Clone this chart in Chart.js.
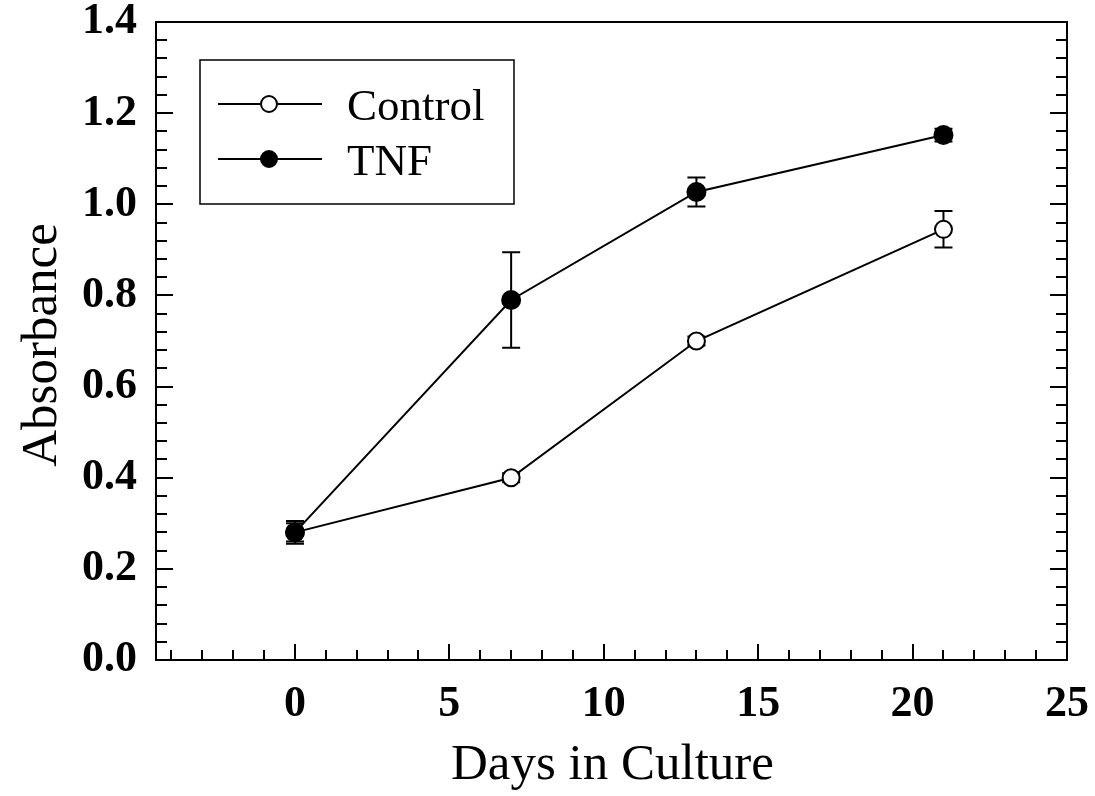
<!DOCTYPE html>
<html>
<head>
<meta charset="utf-8">
<script src="https://cdn.jsdelivr.net/npm/chart.js@4/dist/chart.umd.min.js"></script>
<style>
  html, body { margin: 0; padding: 0; background: #fff; }
  #wrap { width: 1095px; height: 796px; }
</style>
</head>
<body>
<div id="wrap"><canvas id="c" width="1095" height="796"></canvas></div>
<script>
// ---- data ----
const days = [0, 7, 13, 21];
const controlValues = [0.28, 0.40, 0.70, 0.945];
const controlErrors = [0.02, 0.01, 0.01, 0.04];
const tnfValues = [0.28, 0.79, 1.027, 1.152];
const tnfErrors = [0.025, 0.105, 0.032, 0.014];
const xTickValues = [0, 5, 10, 15, 20, 25];
const yTickValues = [0.0, 0.2, 0.4, 0.6, 0.8, 1.0, 1.2, 1.4];
const seriesNames = ['Control', 'TNF'];
const xTitle = 'Days in Culture';
const yTitle = 'Absorbance';

const SERIF = "'Liberation Serif', 'Times New Roman', serif";

const toPts = (xs, ys) => xs.map((x, i) => ({ x: x, y: ys[i] }));

const errorBarPlugin = {
  id: 'errorBars',
  beforeDatasetsDraw(chart) {
    const ctx = chart.ctx;
    const xs = chart.scales.x, ys = chart.scales.y;
    const sets = [[controlValues, controlErrors], [tnfValues, tnfErrors]];
    ctx.save();
    ctx.strokeStyle = '#000';
    ctx.lineWidth = 2;
    sets.forEach(([vals, errs]) => {
      days.forEach((d, i) => {
        const px = xs.getPixelForValue(d);
        const top = ys.getPixelForValue(vals[i] + errs[i]);
        const bot = ys.getPixelForValue(vals[i] - errs[i]);
        ctx.beginPath();
        ctx.moveTo(px, top); ctx.lineTo(px, bot);
        ctx.moveTo(px - 9, top); ctx.lineTo(px + 9, top);
        ctx.moveTo(px - 9, bot); ctx.lineTo(px + 9, bot);
        ctx.stroke();
      });
    });
    ctx.restore();
  }
};

const framePlugin = {
  id: 'frame',
  afterDraw(chart) {
    const ctx = chart.ctx;
    const a = chart.chartArea;
    const xs = chart.scales.x, ys = chart.scales.y;
    ctx.save();
    ctx.strokeStyle = '#000';
    ctx.lineWidth = 2;
    ctx.strokeRect(a.left, a.top, a.right - a.left, a.bottom - a.top);
    // y ticks (inward, left and right)
    ctx.beginPath();
    for (let i = 1; i < 35; i++) {
      const v = i * 0.04;
      const py = Math.round(ys.getPixelForValue(v));
      const major = i % 5 === 0;
      const len = major ? 17 : 11;
      ctx.moveTo(a.left, py); ctx.lineTo(a.left + len, py);
      ctx.moveTo(a.right, py); ctx.lineTo(a.right - len, py);
    }
    // x ticks (inward, bottom only)
    for (let v = -4; v <= 24; v++) {
      const px = Math.round(xs.getPixelForValue(v));
      const len = (v % 5 === 0) ? 16 : 10;
      ctx.moveTo(px, a.bottom); ctx.lineTo(px, a.bottom - len);
    }
    ctx.stroke();

    // axis titles
    ctx.fillStyle = '#000';
    ctx.font = '51px ' + SERIF;
    ctx.textAlign = 'center';
    ctx.textBaseline = 'alphabetic';
    ctx.fillText(xTitle, (a.left + a.right) / 2 + 1, 779);
    ctx.save();
    ctx.translate(56, 345);
    ctx.rotate(-Math.PI / 2);
    ctx.fillText(yTitle, 0, 0);
    ctx.restore();

    // legend
    const lx = a.left + 44, ly = a.top + 38;
    ctx.lineWidth = 1.5;
    ctx.strokeRect(lx, ly, 314, 144);
    const rows = [
      { name: seriesNames[0], fill: '#fff', y: ly + 44 },
      { name: seriesNames[1], fill: '#000', y: ly + 99 }
    ];
    rows.forEach(r => {
      ctx.lineWidth = 2;
      ctx.beginPath();
      ctx.moveTo(lx + 18, r.y); ctx.lineTo(lx + 122, r.y);
      ctx.stroke();
      ctx.beginPath();
      ctx.arc(lx + 69, r.y, 8, 0, Math.PI * 2);
      ctx.fillStyle = r.fill;
      ctx.fill();
      ctx.stroke();
      ctx.fillStyle = '#000';
      ctx.font = '45px ' + SERIF;
      ctx.textAlign = 'left';
      ctx.textBaseline = 'alphabetic';
      ctx.fillText(r.name, lx + 147, r.y + 16);
    });
    ctx.restore();
  }
};

function zeroPad(s) { s.paddingTop = 0; s.paddingBottom = 0; s.paddingLeft = 0; s.paddingRight = 0; }

new Chart(document.getElementById('c'), {
  type: 'line',
  data: {
    datasets: [
      {
        label: seriesNames[1],
        data: toPts(days, tnfValues),
        borderColor: '#000', borderWidth: 2,
        pointRadius: 9, pointBorderWidth: 2,
        pointBackgroundColor: '#000', pointBorderColor: '#000',
        tension: 0, order: 0
      },
      {
        label: seriesNames[0],
        data: toPts(days, controlValues),
        borderColor: '#000', borderWidth: 2,
        pointRadius: 8.5, pointBorderWidth: 2,
        pointBackgroundColor: '#fff', pointBorderColor: '#000',
        tension: 0, order: 1
      }
    ]
  },
  options: {
    responsive: false,
    animation: false,
    events: [],
    layout: { padding: { top: 22, right: 28, left: 0, bottom: 0 } },
    plugins: { legend: { display: false }, tooltip: { enabled: false } },
    scales: {
      x: {
        type: 'linear',
        min: -4.5, max: 25,
        grid: { display: false, drawTicks: false },
        border: { display: false },
        afterBuildTicks: s => { s.ticks = xTickValues.map(v => ({ value: v })); },
        afterFit: s => { s.height = 136; zeroPad(s); },
        ticks: {
          color: '#000', padding: 23, maxRotation: 0, autoSkip: false,
          font: { family: SERIF, size: 44, weight: 'bold', lineHeight: 1 },
          callback: v => String(v)
        }
      },
      y: {
        type: 'linear',
        min: 0, max: 1.4,
        grid: { display: false, drawTicks: false },
        border: { display: false },
        afterBuildTicks: s => { s.ticks = yTickValues.map(v => ({ value: v })); },
        afterFit: s => { s.width = 156; zeroPad(s); },
        ticks: {
          color: '#000', padding: 19, autoSkip: false,
          font: { family: SERIF, size: 44, weight: 'bold', lineHeight: 1 },
          callback: v => Number(v).toFixed(1)
        }
      }
    }
  },
  plugins: [errorBarPlugin, framePlugin]
});
</script>
</body>
</html>
